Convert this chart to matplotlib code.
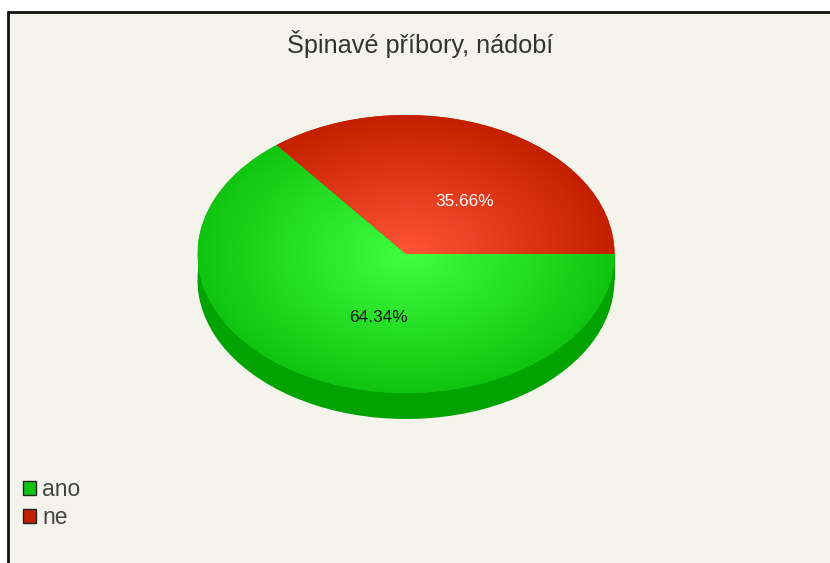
import matplotlib
matplotlib.use('Agg')
import matplotlib.pyplot as plt
import numpy as np
from matplotlib.colors import LinearSegmentedColormap
from matplotlib.patches import Patch, Rectangle

plt.rcParams['font.family'] = ['Liberation Sans', 'DejaVu Sans']

title = 'Špinavé příbory, nádobí'
labels = ['ano', 'ne']
values = [64.34, 35.66]
colors = ['#10c510', '#c42000']
centre_colors = ['#40ff40', '#ff5538']
side_color = '#00a300'
label_colors = ['#101010', '#ffffff']
label_pos = [(378, 317), (465, 201)]

W, H = 830, 563
cx, cy, rx, ry, depth = 406, 254, 208.5, 139, 26

fig = plt.figure(figsize=(W / 100, H / 100), dpi=100, facecolor='white')

# full-figure axes in pixel units for the frame and the texts
bg = fig.add_axes([0, 0, 1, 1])
bg.set_xlim(0, W)
bg.set_ylim(H, 0)
bg.axis('off')
bg.add_patch(Rectangle((8, 12), W + 20, H + 20, facecolor='#f5f4ec',
                       edgecolor='#111111', linewidth=2))


def pie_axes(offset):
    ax = fig.add_axes([(cx - rx) / W, 1 - (cy + offset + ry) / H, 2 * rx / W, 2 * ry / H])
    ax.patch.set_alpha(0)
    return ax


def draw_pie(ax, cols):
    wedges, _ = ax.pie(values, colors=cols, startangle=360 * values[1] / 100, radius=1,
                       center=(0, 0), frame=False)
    ax.set_aspect('auto')
    ax.set_xlim(-1, 1)
    ax.set_ylim(-1, 1)
    ax.axis('off')
    return wedges


# extruded side: the same pie pushed down, with the gap filled in
side_ax = pie_axes(depth)
draw_pie(side_ax, [side_color, side_color])
bg.add_patch(Rectangle((cx - rx, cy), 2 * rx, depth, facecolor=side_color, edgecolor='none'))

# top face with a radial shade clipped to each slice
top_ax = pie_axes(0)
wedges = draw_pie(top_ax, colors)
yy, xx = np.mgrid[-1:1:400j, -1:1:400j]
rr = np.clip(np.hypot(xx, yy), 0, 1)
for wedge, inner, outer in zip(wedges, centre_colors, colors):
    cmap = LinearSegmentedColormap.from_list('shade', [inner, outer])
    im = top_ax.imshow(rr, cmap=cmap, vmin=0, vmax=1, extent=(-1, 1, -1, 1),
                       origin='lower', aspect='auto', interpolation='bilinear', zorder=3)
    im.set_clip_path(wedge)
top_ax.set_xlim(-1, 1)
top_ax.set_ylim(-1, 1)

# texts sit above the pie
over = fig.add_axes([0, 0, 1, 1])
over.set_xlim(0, W)
over.set_ylim(H, 0)
over.axis('off')
over.patch.set_alpha(0)

over.text(420, 44, title, ha='center', va='center', fontsize=18.2, color='#333333')
for v, c, (x, y) in zip(values, label_colors, label_pos):
    over.text(x, y, f'{v:.2f}%', ha='center', va='center', fontsize=12.4, color=c)

handles = [Patch(facecolor=c, edgecolor='#222222', linewidth=1) for c in colors]
over.legend(handles, labels, loc='lower left', bbox_to_anchor=(23 / W, 1 - 529 / H),
            frameon=False, fontsize=16.5, labelcolor='#444444', handlelength=0.57,
            handleheight=0.57, handletextpad=0.26, labelspacing=0.2, borderpad=0, borderaxespad=0)

fig.savefig('out.png', dpi=100)
